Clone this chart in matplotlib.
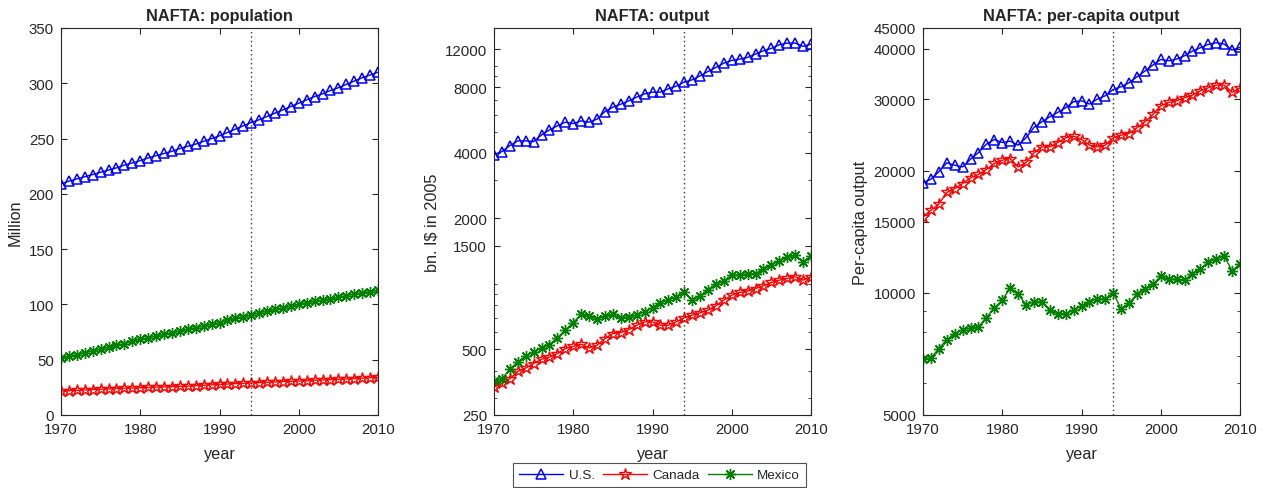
import matplotlib
matplotlib.use("Agg")
import matplotlib.pyplot as plt
import matplotlib.ticker as mticker
import numpy as np

plt.rcParams["font.family"] = ["Liberation Sans", "DejaVu Sans"]
plt.rcParams["text.color"] = "#262626"
plt.rcParams["axes.labelcolor"] = "#262626"
plt.rcParams["xtick.color"] = "#262626"
plt.rcParams["ytick.color"] = "#262626"

years = list(range(1970, 2011))
countries = ["U.S.", "Canada", "Mexico"]
nafta_year = 1994

# population, million
pop_us = [209, 211.5, 213.5, 215.5, 217.5, 219.5, 221.5, 223.5, 226, 228,
          230, 232.5, 234.5, 236.5, 238.5, 241, 243, 245, 247.5, 250,
          252.5, 255.5, 258.5, 261.5, 264.5, 267, 270, 273, 276, 279,
          282, 285, 288, 290.5, 293.5, 296, 299, 302, 305, 307.5, 310]
pop_ca = [21.5, 22, 22.3, 22.6, 23, 23.3, 23.6, 23.9, 24.2, 24.4,
          24.6, 24.9, 25.2, 25.4, 25.7, 25.9, 26.1, 26.5, 26.9, 27.3,
          27.7, 28, 28.4, 28.7, 29, 29.3, 29.6, 29.9, 30.2, 30.4,
          30.7, 31, 31.4, 31.7, 32, 32.3, 32.6, 32.9, 33.3, 33.7, 34]
pop_mx = [51.5, 53, 54.5, 56.5, 58, 59.5, 61.5, 63, 64.5, 66.5,
          68.5, 70, 71.5, 73, 74.5, 76, 77.5, 79, 80.5, 82,
          83.5, 85.5, 87.5, 89, 90.5, 92.5, 94, 95.5, 97, 98.5,
          100, 101.5, 103, 104, 105, 106.5, 108, 109.5, 110.5, 111.5, 113]

# output, bn. I$ in 2005
gdp_us = [3930, 4058, 4323, 4543, 4543, 4510, 4841, 5105, 5325, 5537,
          5460, 5617, 5537, 5717, 6200, 6490, 6700, 6942, 7217, 7475,
          7610, 7610, 7883, 8107, 8457, 8670, 9045, 9470, 9880, 10345,
          10640, 10790, 10990, 11380, 11790, 12090, 12560, 12790, 12790, 12350, 12650]
gdp_ca = [336, 349, 367, 397, 411, 431, 451, 462, 479, 505,
          517, 529, 508, 523, 561, 592, 598, 617, 646, 670,
          670, 646, 646, 670, 699, 719, 737, 758, 794, 843,
          888, 914, 927, 953, 981, 1016, 1041, 1060, 1079, 1041, 1079]
gdp_mx = [357, 367, 406, 438, 466, 487, 508, 527, 567, 613,
          665, 724, 713, 689, 711, 724, 699, 706, 719, 745,
          779, 819, 843, 873, 914, 840, 882, 943, 998, 1030,
          1098, 1098, 1114, 1114, 1170, 1221, 1278, 1324, 1357, 1256, 1348]

# per-capita output
pc_us = [18680, 19070, 19890, 20930, 20650, 20450, 21370, 22190, 23270, 23890,
         23490, 23670, 23140, 24120, 25580, 26420, 27180, 27860, 28610, 29600,
         29770, 29210, 30050, 30630, 31740, 32230, 32970, 34110, 35230, 36450,
         37640, 37360, 37720, 38440, 39470, 40230, 41000, 41390, 41080, 39700, 40300]
pc_ca = [15400, 15990, 16550, 17690, 18090, 18610, 19220, 19590, 20150, 20850,
         21240, 21450, 20450, 20970, 22150, 22920, 22920, 23490, 24120, 24360,
         23890, 23140, 22920, 23140, 24120, 24490, 24720, 25530, 26420, 27540,
         28930, 29490, 29770, 30280, 30740, 31510, 32050, 32540, 32540, 31210, 32050]
pc_mx = [6885, 6910, 7290, 7670, 7940, 8120, 8200, 8245, 8695, 9185,
         9590, 10290, 9925, 9360, 9500, 9500, 9065, 8890, 8890, 9065,
         9290, 9500, 9680, 9640, 10020, 9115, 9445, 9925, 10250, 10510,
         10990, 10800, 10800, 10750, 11160, 11440, 11930, 12110, 12340, 11330, 11810]

styles = [
    dict(color="blue", marker="^", markersize=7, markerfacecolor="none", markeredgewidth=1.1),
    dict(color="red", marker="*", markersize=9, markerfacecolor="none", markeredgewidth=1.0),
    dict(color="green", marker=(8, 2, 0), markersize=8, markeredgewidth=1.0),
]

fig = plt.figure(figsize=(12.63, 4.89), dpi=100)
W, H = 1263, 489
ax_specs = [(61, "NAFTA: population", "Million", [pop_us, pop_ca, pop_mx]),
            (494, "NAFTA: output", "bn. I\\$ in 2005", [gdp_us, gdp_ca, gdp_mx]),
            (923, "NAFTA: per-capita output", "Per-capita output", [pc_us, pc_ca, pc_mx])]

axes = []
for left, title, ylabel, series in ax_specs:
    ax = fig.add_axes([left / W, 1 - 416 / H, 317 / W, 387 / H])
    lines = []
    for vals, st in zip(series, styles):
        ln, = ax.plot(years, vals, linewidth=1.0, **st)
        lines.append(ln)
    ax.axvline(nafta_year, color="#333333", linestyle=(0, (1, 2.2)), linewidth=1.0)
    ax.set_xlim(1970, 2010)
    ax.set_xticks([1970, 1980, 1990, 2000, 2010])
    ax.set_title(title, fontsize=11.7, fontweight="bold", pad=6)
    ax.set_xlabel("year", fontsize=11.7, labelpad=7)
    ax.set_ylabel(ylabel, fontsize=11.7, labelpad=4)
    ax.tick_params(which="both", direction="in", top=True, right=True, labelsize=10.8)
    ax.tick_params(axis="x", pad=5)
    ax.tick_params(axis="y", pad=5)
    ax.tick_params(which="major", length=4)
    ax.tick_params(which="minor", length=2.5)
    for sp in ax.spines.values():
        sp.set_color("#262626")
        sp.set_linewidth(0.8)
    axes.append(ax)

axes[0].set_ylim(0, 350)
axes[0].set_yticks(np.arange(0, 351, 50))

axes[1].set_yscale("log")
axes[1].set_ylim(250, 15000)
axes[1].yaxis.set_major_locator(mticker.FixedLocator([250, 500, 1500, 2000, 4000, 8000, 12000]))
axes[1].yaxis.set_major_formatter(mticker.FormatStrFormatter("%d"))
axes[1].yaxis.set_minor_locator(mticker.LogLocator(subs=np.arange(1, 10)))
axes[1].yaxis.set_minor_formatter(mticker.NullFormatter())

axes[2].set_yscale("log")
axes[2].set_ylim(5000, 45000)
axes[2].yaxis.set_major_locator(mticker.FixedLocator([5000, 10000, 15000, 20000, 30000, 40000, 45000]))
axes[2].yaxis.set_major_formatter(mticker.FormatStrFormatter("%d"))
axes[2].yaxis.set_minor_locator(mticker.LogLocator(subs=np.arange(1, 10)))
axes[2].yaxis.set_minor_formatter(mticker.NullFormatter())

leg = fig.legend(lines, countries, loc="center", bbox_to_anchor=(659.5 / W, 1 - 476 / H),
                 ncol=3, fontsize=9.7, frameon=True, fancybox=False, handlelength=3.3,
                 columnspacing=0.6, handletextpad=0.38, borderpad=0.42, borderaxespad=0)
leg.get_frame().set_edgecolor("#262626")
leg.get_frame().set_linewidth(0.8)

fig.savefig("out.png", dpi=100)
